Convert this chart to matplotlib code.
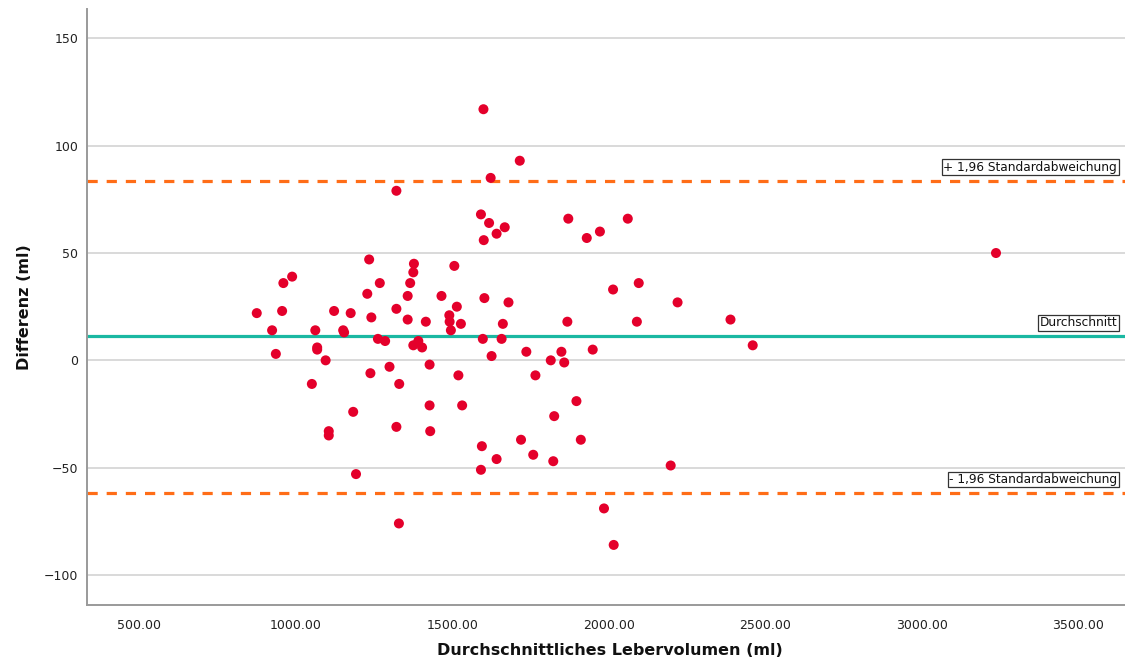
import matplotlib
matplotlib.use("Agg")
import matplotlib.pyplot as plt

# Mean liver volume (ml) and difference (ml) for each case
mean_volume = [876, 925, 937, 957, 961, 989, 1052, 1063, 1069, 1069, 1096, 1106, 1106,
               1123, 1152, 1155, 1176, 1184, 1193, 1229, 1235, 1239, 1242, 1263, 1269,
               1286, 1300, 1322, 1322, 1322, 1331, 1330, 1358, 1358, 1366, 1376, 1378,
               1376, 1392, 1404, 1416, 1428, 1428, 1430, 1466, 1491, 1492, 1496, 1507,
               1515, 1520, 1528, 1532, 1592, 1600, 1595, 1592, 1603, 1598, 1601, 1618,
               1623, 1626, 1642, 1642, 1662, 1668, 1680, 1658, 1716, 1720, 1737, 1759,
               1766, 1815, 1826, 1823, 1849, 1858, 1871, 1868, 1897, 1911, 1930, 1949,
               1972, 1985, 2014, 2016, 2061, 2090, 2096, 2198, 2220, 2389, 2460, 3237]
difference = [22, 14, 3, 23, 36, 39, -11, 14, 6, 5, 0, -33, -35,
              23, 14, 13, 22, -24, -53, 31, 47, -6, 20, 10, 36,
              9, -3, -31, 24, 79, -11, -76, 19, 30, 36, 41, 45,
              7, 9, 6, 18, -2, -21, -33, 30, 21, 18, 14, 44,
              25, -7, 17, -21, 68, 117, -40, -51, 29, 10, 56, 64,
              85, 2, 59, -46, 17, 62, 27, 10, 93, -37, 4, -44,
              -7, 0, -26, -47, 4, -1, 66, 18, -19, -37, 57, 5,
              60, -69, 33, -86, 66, 18, 36, -49, 27, 19, 7, 50]

mean_diff = 11.3
upper_loa = 83.7
lower_loa = -61.8

x_ticks = [500, 1000, 1500, 2000, 2500, 3000, 3500]
y_ticks = [-100, -50, 0, 50, 100, 150]

labels = {"upper": "+ 1,96 Standardabweichung",
          "mean": "Durchschnitt",
          "lower": "- 1,96 Standardabweichung"}

plt.rcParams['font.family'] = ['DejaVu Sans']

fig = plt.figure(figsize=(11.25, 6.61), dpi=100)
ax = fig.add_axes([0.0771, 0.0847, 0.9229, 0.9017])

ax.set_xlim(333, 3649)
ax.set_ylim(-114, 163.7)

ax.set_yticks(y_ticks)
ax.set_xticks(x_ticks)
ax.set_xticklabels([f"{t:.2f}" for t in x_ticks])
ax.set_yticklabels([f"{t}".replace("-", "\u2212") for t in y_ticks])
ax.yaxis.grid(True, color="#cfcfcf", linewidth=1.1)
ax.set_axisbelow(True)
ax.tick_params(axis="both", length=0, labelsize=9, colors="#222222")
ax.tick_params(axis="x", pad=10)
ax.tick_params(axis="y", pad=6)

for s in ["top", "right"]:
    ax.spines[s].set_visible(False)
for s in ["left", "bottom"]:
    ax.spines[s].set_color("#9a9a9a")
    ax.spines[s].set_linewidth(1.4)

orange = "#ff6d17"
teal = "#1ab8a2"
ax.axhline(upper_loa, color=orange, linewidth=2.3, linestyle=(0, (3.2, 2.8)), zorder=2)
ax.axhline(lower_loa, color=orange, linewidth=2.3, linestyle=(0, (3.2, 2.8)), zorder=2)
ax.axhline(mean_diff, color=teal, linewidth=2.3, zorder=2)

ax.scatter(mean_volume, difference, s=52, color="#e4002b", edgecolors="none", zorder=3)

box = dict(boxstyle="square,pad=0.12", facecolor="white", edgecolor="#333333", linewidth=0.9)
tr = ax.get_yaxis_transform()
for key, val in [("upper", upper_loa), ("mean", mean_diff), ("lower", lower_loa)]:
    ax.annotate(labels[key], xy=(0.9925, val), xycoords=tr,
                xytext=(0, 5), textcoords="offset points",
                ha="right", va="bottom", fontsize=8.7, color="#111111", bbox=box, zorder=4)

ax.set_xlabel("Durchschnittliches Lebervolumen (ml)", fontsize=11.5, fontweight="bold",
              color="#111111")
ax.set_ylabel("Differenz (ml)", fontsize=11.5, fontweight="bold", color="#111111")
ax.xaxis.set_label_coords(0.504, -0.063)
ax.yaxis.set_label_coords(-0.053, 0.5)

fig.savefig("out.png", dpi=100)
